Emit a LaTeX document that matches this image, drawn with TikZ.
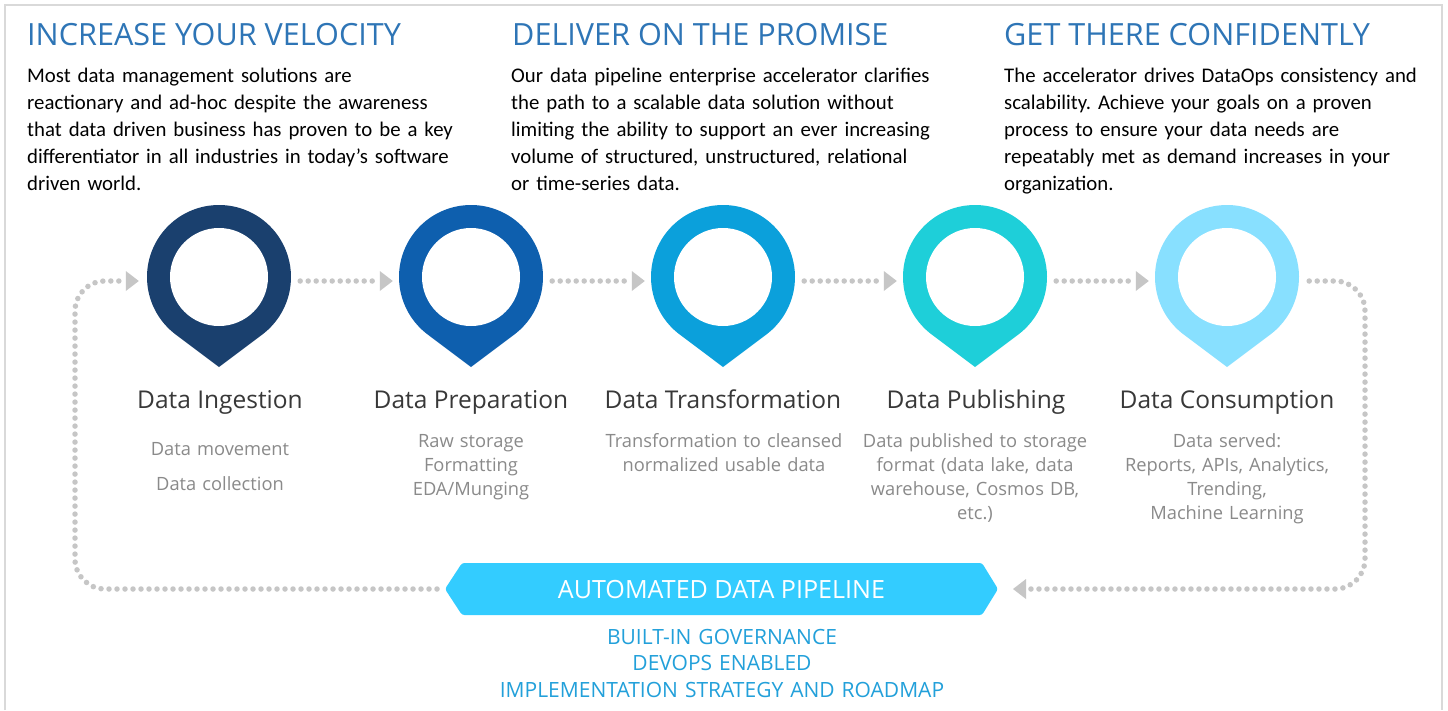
\documentclass[tikz,border=0pt]{standalone}
\usepackage{fontspec}
\setmainfont{Open Sans}
\newfontfamily\bodyfont{Carlito}
\usetikzlibrary{arrows.meta}
\frenchspacing
\definecolor{framec}{HTML}{D9D9D9}
\definecolor{headc}{HTML}{2E75B6}
\definecolor{labc}{HTML}{383838}
\definecolor{descc}{HTML}{8A8A8A}
\definecolor{dotc}{HTML}{C6C6C6}
\definecolor{pinA}{HTML}{1A406E}
\definecolor{pinB}{HTML}{0E5FAE}
\definecolor{pinC}{HTML}{0BA0DB}
\definecolor{pinD}{HTML}{1ECFD9}
\definecolor{pinE}{HTML}{88E0FF}
\definecolor{bannerc}{HTML}{33CCFF}
\definecolor{govc}{HTML}{22A0DA}
\tikzset{
  head/.style={font=\fontsize{30.6}{36}\selectfont, text=headc, inner sep=0, anchor=base west},
  bodytxt/.style={font=\bodyfont\fontsize{20.8}{27}\selectfont, text=black, inner sep=0, anchor=base west, align=left, text width=440pt},
  lab/.style={font=\fontsize{24.5}{30}\selectfont, text=labc, inner sep=0, anchor=base},
  desc/.style={font=\fontsize{18.3}{24}\selectfont, text=descc, inner sep=0, anchor=base, align=center, text width=250pt},
  dotline/.style={draw=dotc, line width=5.5pt, line cap=round, dash pattern=on 0pt off 8pt},
  tipR/.style={-{Triangle[length=13pt, width=20pt, line width=0pt, fill=dotc]}},
  ring/.style={circle, minimum size=144pt, inner sep=0},
}
\newcommand\pinmark[3]{%
  \fill[#3] (#2,-367) -- ([shift={(233.13:72)}]#2,-277) arc[start angle=233.13, end angle=-53.13, radius=72] -- cycle;
  \fill[white] (#2,-277) circle[radius=49];
  \node[ring] (#1) at (#2,-277) {};
}
\begin{document}
\begin{tikzpicture}[x=1pt, y=1pt]
\useasboundingbox (0,0) rectangle (1448,-710);
\fill[white] (0,0) rectangle (1448,-710);
\draw[framec, line width=2.5pt] (5,-710) -- (5,-5) -- (1442,-5) -- (1442,-710);

% headings and paragraphs
\node[head] (h1) at (27,-45) {INCREASE YOUR VELOCITY};
\node[head] (h2) at (512,-45) {DELIVER ON THE PROMISE};
\node[head] (h3) at (1004,-45) {GET THERE CONFIDENTLY};
\node[bodytxt] (t1) at (27,-82) {Most data management solutions are\\reactionary and ad-hoc despite the awareness\\that data driven business has proven to be a key\\differentiator in all industries in today’s software\\driven world.};
\node[bodytxt] (t2) at (511,-82) {Our data pipeline enterprise accelerator clarifies\\the path to a scalable data solution without\\limiting the ability to support an ever increasing\\volume of structured, unstructured, relational\\or time-series data.};
\node[bodytxt] (t3) at (1004,-82) {The accelerator drives DataOps consistency and\\scalability. Achieve your goals on a proven\\process to ensure your data needs are\\repeatably met as demand increases in your\\organization.};

% pins
\pinmark{p1}{219}{pinA}
\pinmark{p2}{471}{pinB}
\pinmark{p3}{723}{pinC}
\pinmark{p4}{975}{pinD}
\pinmark{p5}{1227}{pinE}

% labels
\node[lab] (l1) at (220,-408) {Data Ingestion};
\node[lab] (l2) at (471,-408) {Data Preparation};
\node[lab] (l3) at (723,-408) {Data Transformation};
\node[lab] (l4) at (976,-408) {Data Publishing};
\node[lab] (l5) at (1227,-408) {Data Consumption};

\node[desc] (d1) at (220,-455) {Data movement\\[11pt]Data collection};
\node[desc] (d2) at (471,-447) {Raw storage\\Formatting\\EDA/Munging};
\node[desc] (d3) at (724,-447) {Transformation to cleansed\\normalized usable data};
\node[desc] (d4) at (975,-447) {Data published to storage\\format (data lake, data\\warehouse, Cosmos DB,\\etc.)};
\node[desc] (d5) at (1227,-447) {Data served:\\Reports, APIs, Analytics,\\Trending,\\Machine Learning};

% banner
\coordinate (bl) at (445,-589);
\coordinate (br) at (998,-589);
\fill[bannerc, rounded corners=2.5pt] (bl) -- (462,-563) -- (982,-563) -- (br) -- (982,-615) -- (462,-615) -- cycle;
\node[font=\fontsize{25.1}{30}\selectfont, text=white, inner sep=0, anchor=base] (banner) at (721.5,-598) {AUTOMATED DATA PIPELINE};
\node[font=\fontsize{21}{26.5}\selectfont, text=govc, inner sep=0, anchor=base, align=center, text width=600pt] (gov) at (722,-644) {BUILT-IN GOVERNANCE\\DEVOPS ENABLED\\IMPLEMENTATION STRATEGY AND ROADMAP};

% connectors between pins
\foreach \a/\b in {p1/p2, p2/p3, p3/p4, p4/p5}
  \draw[dotline, tipR, shorten <=9pt, shorten >=6pt] ([yshift=-4pt]\a.east) -- ([yshift=-4pt]\b.west);

% loop
\coordinate (lb) at (75,-589);
\coordinate (lt) at (75,-281);
\coordinate (rt) at (1365,-281);
\coordinate (rb) at (1365,-589);
\draw[dotline, tipR, rounded corners=30pt, shorten <=8pt, shorten >=8pt] (bl) -- (lb) -- (lt) -- ([yshift=-4pt]p1.west);
\draw[dotline, tipR, rounded corners=30pt, shorten <=10pt, shorten >=15pt] ([yshift=-4pt]p5.east) -- (rt) -- (rb) -- (br);
\end{tikzpicture}
\end{document}
